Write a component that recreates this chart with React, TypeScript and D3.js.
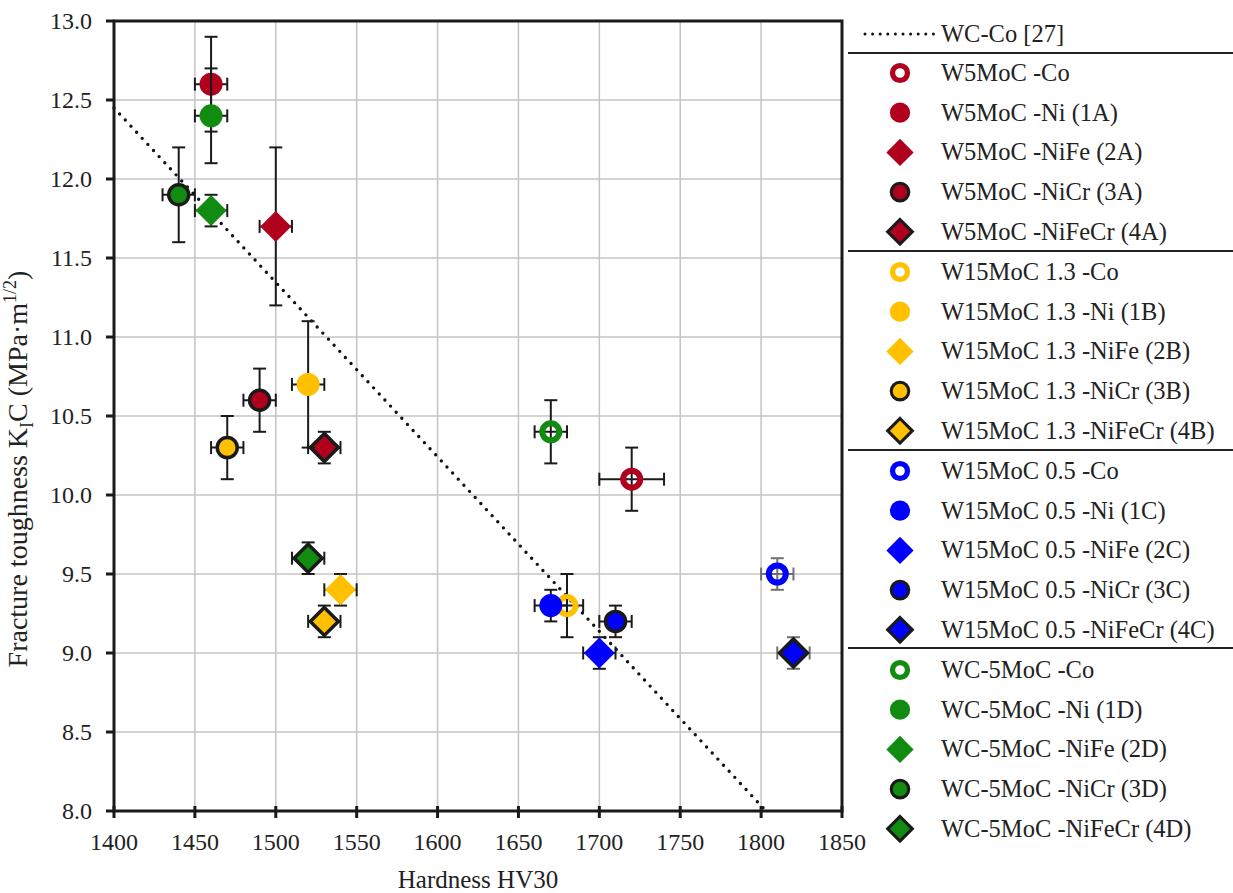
import * as d3 from "d3";

const WIDTH = 1233;
const HEIGHT = 893;
const PLOT = { left: 114, right: 842, top: 21, bottom: 811 };

// series groups (rows) x binders (columns)
const groups = ["W5MoC", "W15MoC 1.3", "W15MoC 0.5", "WC-5MoC"];
const groupCodes = ["A", "B", "C", "D"];
const groupColors = ["#b0001e", "#ffc000", "#0000ff", "#118c11"];
const binders = ["-Co", "-Ni", "-NiFe", "-NiCr", "-NiFeCr"];

const hardness = [
  [1720, 1460, 1500, 1490, 1530],
  [1680, 1520, 1540, 1470, 1530],
  [1810, 1670, 1700, 1710, 1820],
  [1670, 1460, 1460, 1440, 1520],
];
const toughness = [
  [10.1, 12.6, 11.7, 10.6, 10.3],
  [9.3, 10.7, 9.4, 10.3, 9.2],
  [9.5, 9.3, 9.0, 9.2, 9.0],
  [10.4, 12.4, 11.8, 11.9, 9.6],
];
const hardnessErr = [
  [20, 10, 10, 10, 10],
  [10, 10, 10, 10, 10],
  [10, 10, 10, 10, 10],
  [10, 10, 10, 10, 10],
];
const toughnessErr = [
  [0.2, 0.3, 0.5, 0.2, 0.1],
  [0.2, 0.4, 0.1, 0.2, 0.1],
  [0.1, 0.1, 0.1, 0.1, 0.1],
  [0.2, 0.3, 0.1, 0.3, 0.1],
];

// WC-Co [27] reference trend
const refHardness = [1400, 1803];
const refToughness = [12.45, 8.0];

const FONT = "'Liberation Serif', 'Times New Roman', serif";
const TEXT = "#222";

const marker = (kind: number, color: string, cx: number, cy: number, s: number, key: string) => {
  if (kind === 0) {
    return <circle key={key} cx={cx} cy={cy} r={8.5 * s} fill="none" stroke={color} strokeWidth={6 * s} />;
  }
  if (kind === 1) {
    return <circle key={key} cx={cx} cy={cy} r={11.5 * s} fill={color} />;
  }
  if (kind === 3) {
    return <circle key={key} cx={cx} cy={cy} r={10 * s} fill={color} stroke="#1a1a1a" strokeWidth={3.5 * s} />;
  }
  const h = (kind === 2 ? 15.5 : 14) * s;
  const d = `M${cx},${cy - h}L${cx + h},${cy}L${cx},${cy + h}L${cx - h},${cy}Z`;
  return kind === 2 ? (
    <path key={key} d={d} fill={color} />
  ) : (
    <path key={key} d={d} fill={color} stroke="#1a1a1a" strokeWidth={3.5 * s} strokeLinejoin="miter" />
  );
};

export default function App() {
  const xScale = d3.scaleLinear().domain([1400, 1850]).range([PLOT.left, PLOT.right]);
  const yScale = d3.scaleLinear().domain([8, 13]).range([PLOT.bottom, PLOT.top]);
  const xTicks = xScale.ticks(9);
  const yTicks = yScale.ticks(10);

  const refLine = d3
    .line<number>()
    .x((d) => xScale(d))
    .y((_, i) => yScale(refToughness[i]))(refHardness);

  const CAP = 6.5;
  const points = groups.flatMap((g, gi) =>
    binders.map((b, bi) => {
      const cx = xScale(hardness[gi][bi]);
      const cy = yScale(toughness[gi][bi]);
      const x0 = xScale(hardness[gi][bi] - hardnessErr[gi][bi]);
      const x1 = xScale(hardness[gi][bi] + hardnessErr[gi][bi]);
      const y0 = yScale(toughness[gi][bi] + toughnessErr[gi][bi]);
      const y1 = yScale(toughness[gi][bi] - toughnessErr[gi][bi]);
      const ec = gi === 2 && (bi === 0 || bi === 4) ? "#707070" : "#1a1a1a";
      return (
        <g key={`${gi}-${bi}`}>
          <g stroke={ec} strokeWidth={2}>
            <line x1={x0} x2={x1} y1={cy} y2={cy} />
            <line x1={x0} x2={x0} y1={cy - CAP} y2={cy + CAP} />
            <line x1={x1} x2={x1} y1={cy - CAP} y2={cy + CAP} />
            <line x1={cx} x2={cx} y1={y0} y2={y1} />
            <line x1={cx - CAP} x2={cx + CAP} y1={y0} y2={y0} />
            <line x1={cx - CAP} x2={cx + CAP} y1={y1} y2={y1} />
          </g>
          {marker(bi, groupColors[gi], cx, cy, 1, "m")}
        </g>
      );
    })
  );

  // legend
  const LEG_MARK_X = 900;
  const LEG_TEXT_X = 941;
  const rowY = (gi: number, bi: number) => 73 + gi * 199 + bi * 39.7;
  const legendItems = groups.flatMap((g, gi) =>
    binders.map((b, bi) => {
      const label = `${g} ${b}${bi > 0 ? ` (${bi}${groupCodes[gi]})` : ""}`;
      const y = rowY(gi, bi);
      return (
        <g key={`l${gi}-${bi}`}>
          {marker(bi, groupColors[gi], LEG_MARK_X, y, 0.88, "lm")}
          <text x={LEG_TEXT_X} y={y + 8} fontSize={24.5} fill={TEXT}>
            {label}
          </text>
        </g>
      );
    })
  );
  const separators = [53, 251, 450, 648];

  return (
    <svg
      width={WIDTH}
      height={HEIGHT}
      style={{ position: "absolute", left: 0, top: 0, background: "#fff" }}
      fontFamily={FONT}
    >
      {/* grid */}
      {xTicks.map((t) => (
        <line key={`gx${t}`} x1={xScale(t)} x2={xScale(t)} y1={PLOT.top} y2={PLOT.bottom} stroke="#c4c4c4" strokeWidth={1.5} />
      ))}
      {yTicks.map((t) => (
        <line key={`gy${t}`} x1={PLOT.left} x2={PLOT.right} y1={yScale(t)} y2={yScale(t)} stroke="#c4c4c4" strokeWidth={1.5} />
      ))}

      {/* reference line */}
      <path d={refLine ?? ""} fill="none" stroke="#111" strokeWidth={3.4} strokeDasharray="0 8.3" strokeLinecap="round" />

      {points}

      {/* frame */}
      <rect
        x={PLOT.left}
        y={PLOT.top}
        width={PLOT.right - PLOT.left}
        height={PLOT.bottom - PLOT.top}
        fill="none"
        stroke="#1a1a1a"
        strokeWidth={3}
      />

      {/* x ticks */}
      {xTicks.map((t) => (
        <g key={`xt${t}`}>
          <line x1={xScale(t)} x2={xScale(t)} y1={PLOT.bottom - 5} y2={PLOT.bottom + 7} stroke="#1a1a1a" strokeWidth={3} />
          <text x={xScale(t)} y={850} textAnchor="middle" fontSize={24} fill={TEXT}>
            {t}
          </text>
        </g>
      ))}
      {/* y ticks */}
      {yTicks.map((t) => (
        <g key={`yt${t}`}>
          <line x1={PLOT.left - 8} x2={PLOT.left} y1={yScale(t)} y2={yScale(t)} stroke="#1a1a1a" strokeWidth={3} />
          <text x={92} y={yScale(t) + 8} textAnchor="end" fontSize={24} fill={TEXT}>
            {d3.format(".1f")(t)}
          </text>
        </g>
      ))}

      {/* axis titles */}
      <text x={(PLOT.left + PLOT.right) / 2} y={888} textAnchor="middle" fontSize={25} fill={TEXT}>
        Hardness HV30
      </text>
      <text transform="translate(27,469) rotate(-90)" textAnchor="middle" fontSize={28} fill={TEXT}>
        Fracture toughness K
        <tspan fontSize={18} dy={6}>I</tspan>
        <tspan dy={-6}>C (MPa·m</tspan>
        <tspan fontSize={18} dy={-11}>1/2</tspan>
        <tspan dy={11}>)</tspan>
      </text>

      {/* legend */}
      <line x1={865} x2={935} y1={34} y2={34} stroke="#111" strokeWidth={3} strokeDasharray="0 7.6" strokeLinecap="round" />
      <text x={LEG_TEXT_X} y={42} fontSize={24.5} fill={TEXT}>
        WC-Co [27]
      </text>
      {separators.map((y) => (
        <line key={`s${y}`} x1={848} x2={WIDTH} y1={y} y2={y} stroke="#222" strokeWidth={2.2} />
      ))}
      {legendItems}
    </svg>
  );
}
